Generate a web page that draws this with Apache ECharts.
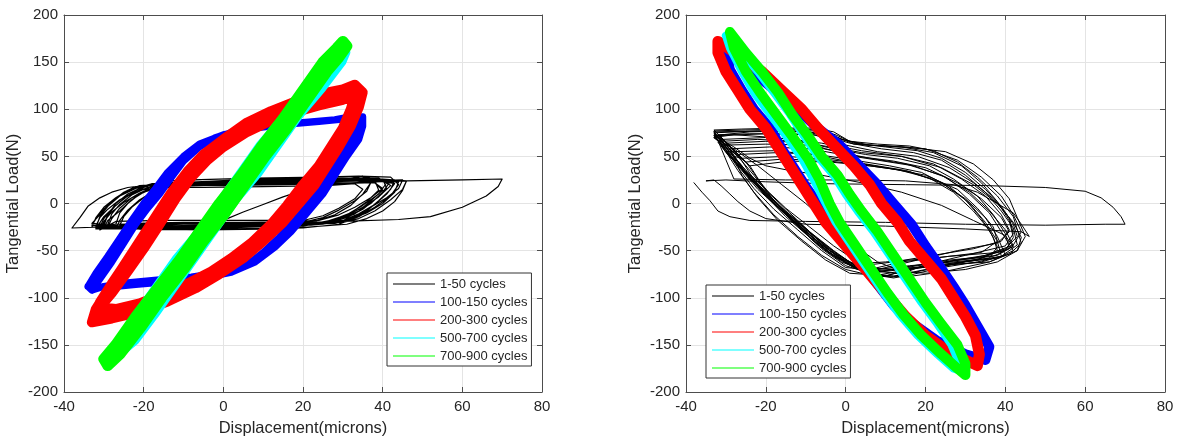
<!DOCTYPE html>
<html>
<head>
<meta charset="utf-8">
<script src="https://cdn.jsdelivr.net/npm/echarts@6/dist/echarts.min.js"></script>
<style>
  html, body { margin: 0; padding: 0; background: #fff; }
  #chart { width: 1189px; height: 442px; }
</style>
</head>
<body>
<div id="chart"></div>
<script>
// ticks
const xTicks = [-40, -20, 0, 20, 40, 60, 80];
const yTicks = [-200, -150, -100, -50, 0, 50, 100, 150, 200];
const seriesNames = ['1-50 cycles', '100-150 cycles', '200-300 cycles', '500-700 cycles', '700-900 cycles'];
const seriesColors = ['#000000', '#0000ff', '#ff0000', '#00ffff', '#00ff00'];

// left panel (displacement µm, load N)
const leftBlack = [
  [1, -16], [5, -9], [10, -1], [15, 7], [20, 14], [25, 19], [32, 22], [46, 24], [60, 25], [70, 26], [69, 18], [66, 8], [60, -4], [52, -14], [44, -17], [30, -19], [10, -21], [-10, -22], [-25, -24], [-38, -26], [-36, -15], [-34, -3], [-31, 6], [-28, 12], [-24, 17], [-18, 20], [-5, 22], [15, 23], [30, 24], [46, 24], [45, 15], [42, 4], [38, -8], [34, -16], [30, -20],
  [10, -22], [-10, -24], [-25, -25], [-33, -25], [-32, -15], [-30, -4], [-27, 6], [-24, 14], [-21, 19], [-10, 22], [10, 24], [30, 26], [43, 25], [42, 15], [39, 3], [36, -8], [32, -17], [28, -21],
  [10, -23], [-10, -25], [-32, -26], [-31, -14], [-29, -3], [-26, 8], [-22, 16], [-18, 20], [0, 23], [20, 25], [36, 27], [42, 24], [40, 12], [37, 0], [33, -11], [28, -19], [24, -22],
  [5, -24], [-15, -25], [-30, -24], [-29, -12], [-27, 0], [-24, 10], [-20, 18], [-15, 21], [5, 24], [25, 26], [38, 25], [39, 14], [36, 2], [32, -10], [27, -18], [23, -21],
  [0, -23], [-20, -24], [-33, -23], [-31, -10], [-28, 2], [-25, 12], [-22, 18], [-10, 21], [10, 23], [30, 25], [40, 26], [41, 16], [38, 4], [35, -6], [31, -15], [26, -20],
  [10, -21], [-10, -22], [-29, -22], [-28, -11], [-26, -1], [-23, 9], [-19, 17], [-12, 20], [8, 22], [28, 24], [35, 29], [37, 22], [35, 10], [32, -2], [28, -12], [23, -19],
  [5, -20], [-15, -21], [-27, -22], [-26, -10], [-24, 0], [-21, 10], [-17, 17], [0, 20], [20, 22], [34, 24], [44, 23], [43, 12], [40, 0], [36, -10], [31, -18], [27, -21],
  [5, -25], [-20, -27], [-32, -27], [-30, -14], [-27, -2], [-24, 8], [-20, 15], [-14, 18], [5, 20], [25, 22], [38, 22], [40, 14], [37, 3], [34, -8], [30, -16], [25, -22], [15, -24],
  [0, -26], [-18, -27], [-31, -25], [-30, -16], [-28, -6], [-25, 5], [-22, 13], [-17, 19], [0, 22], [18, 24], [33, 26], [36, 28], [41, 22], [39, 10], [35, -2], [31, -12], [26, -19], [20, -24],
  [0, -25], [-22, -26], [-30, -26], [-29, -18], [-26, -8], [-23, 4], [-20, 12], [-15, 18], [2, 21], [22, 23], [37, 24], [45, 25], [44, 16], [41, 6], [37, -4], [33, -14], [29, -20], [22, -23], [5, -23],
  [-15, -24], [-32, -24], [-31, -15], [-29, -6], [-26, 4], [-22, 13], [-17, 17], [-5, 17], [10, 18], [26, 19], [33, 21], [35, 15], [33, 5], [29, -5], [25, -13], [20, -18], [5, -18], [-15, -18], [-27, -19],
  [-31, -28], [-30, -19], [-28, -9], [-25, 1], [-21, 11], [-16, 20], [-8, 25], [8, 27], [24, 28], [34, 29], [42, 28], [44, 20], [42, 8], [38, -4], [34, -14], [29, -22], [20, -26], [0, -27], [-20, -28],
  [-30, -22], [-29, -12], [-27, -2], [-24, 8], [-20, 17], [-14, 24], [0, 26], [16, 27], [30, 27], [40, 26], [46, 24], [45, 14], [43, 2], [40, -8], [36, -16], [31, -22], [15, -27], [-5, -28], [-22, -27],
  [-29, -25], [-28, -16], [-26, -5], [-23, 6], [-19, 14], [-14, 19], [0, 19], [14, 20], [28, 21], [38, 22], [40, 16], [37, 6], [33, -4], [29, -12], [24, -18], [10, -20], [-10, -20], [-22, -21],
  [-27, -27], [-26, -18], [-24, -7], [-21, 4], [-17, 14], [-12, 22], [4, 25], [20, 26], [32, 27], [39, 27], [42, 19], [39, 7], [35, -4], [31, -13], [26, -20], [12, -24], [-6, -25], [-20, -26],
  [-33, -21], [-31, -12], [-29, -2], [-26, 8], [-23, 15], [-18, 21], [-4, 23], [12, 24], [28, 25], [38, 25], [43, 21], [41, 10], [38, -1], [34, -11], [30, -18], [18, -22], [0, -22], [-18, -22],
  [-26, -23], [-25, -14], [-23, -4], [-20, 6], [-16, 14], [-12, 20], [4, 22], [22, 23], [33, 24], [37, 22], [36, 13], [33, 3], [29, -7], [25, -15], [20, -20], [5, -21], [-12, -22], [-26, -23]
];
const leftBlue = [
  [-33, -92], [-31, -80], [-28, -62], [-25, -42], [-22, -22], [-19, -5], [-16, 10], [-13, 28], [-10, 45], [-6, 60], [-2, 70], [4, 78], [12, 83], [20, 86], [28, 89], [33, 93], [34, 88], [33, 75], [31, 60], [28, 42], [25, 22], [22, 2], [18, -18], [14, -36], [10, -52], [6, -65], [0, -73], [-8, -78], [-16, -81], [-24, -84], [-30, -88], [-33, -92],
  [-34, -88], [-32, -74], [-29, -56], [-26, -37], [-23, -18], [-20, 0], [-17, 16], [-14, 33], [-10, 50], [-6, 63], [0, 73], [8, 80], [16, 84], [24, 87], [31, 90], [35, 92], [35, 82], [34, 68], [31, 50], [28, 30], [25, 10], [21, -10], [17, -30], [13, -46], [8, -62], [2, -73], [-6, -80], [-14, -83], [-22, -86], [-29, -89], [-34, -88]
];
const leftRed = [
  [-32, -118], [-31, -105], [-28, -85], [-24, -60], [-20, -35], [-16, -10], [-12, 15], [-8, 38], [-4, 55], [0, 68], [6, 82], [12, 93], [18, 103], [24, 110], [30, 116], [33, 120], [34, 115], [33, 100], [31, 80], [28, 58], [25, 38], [22, 18], [18, -2], [14, -22], [9, -42], [4, -60], [-2, -76], [-8, -90], [-15, -102], [-22, -112], [-28, -118], [-32, -120],
  [-33, -126], [-32, -112], [-29, -92], [-25, -66], [-21, -40], [-17, -14], [-13, 12], [-9, 34], [-5, 52], [0, 68], [6, 86], [12, 98], [18, 108], [24, 116], [30, 121], [33, 126], [35, 118], [34, 102], [32, 82], [29, 60], [26, 40], [23, 20], [19, 0], [15, -20], [10, -40], [5, -58], [-1, -75], [-7, -90], [-14, -104], [-21, -115], [-28, -122], [-33, -126],
  [-31, -110], [-28, -95], [-24, -72], [-20, -48], [-16, -22], [-12, 5], [-8, 28], [-4, 46], [0, 60], [6, 76], [12, 88], [18, 97], [24, 104], [30, 110], [33, 114], [32, 100], [30, 80], [27, 60], [24, 40], [20, 20], [16, -2], [12, -22], [7, -42], [2, -58], [-3, -72], [-9, -85], [-15, -96], [-21, -106], [-27, -112], [-31, -110]
];
const leftCyan = [
  [-30, -166], [-27, -148], [-22, -118], [-17, -88], [-12, -58], [-6, -28], [-1, 2], [4, 32], [9, 62], [15, 92], [20, 122], [25, 150], [29, 164], [31, 160],
  [30, 150], [25, 122], [19, 92], [14, 62], [9, 32], [3, 2], [-2, -28], [-7, -58], [-12, -88], [-17, -118], [-22, -146], [-27, -164], [-30, -166]
];
const leftGreen = [
  [-29, -172], [-30, -165], [-27, -150], [-22, -120], [-16.5, -90], [-11, -60], [-6, -30], [-1, 0], [4.5, 30], [9.5, 60], [15, 90], [20, 120], [25, 150], [28.5, 165], [30, 172],
  [31, 167], [29, 155], [26, 140], [21, 110], [16, 80], [10.5, 50], [5.5, 20], [0.5, -10], [-5, -40], [-10, -70], [-15.5, -100], [-20.5, -130], [-26, -160], [-28, -168], [-29, -172]
];

// right panel
const rightBlack = [
  [-38, 22], [-36, 12], [-34, 3], [-32, -8], [-29, -14], [-24, -18], [-10, -19], [10, -20], [30, -22], [50, -23], [65, -22], [70, -22], [69, -14], [67, -4], [64, 6], [60, 13], [50, 17], [35, 19], [15, 20], [-5, 21], [-20, 23], [-30, 25], [-35, 24],
  [-33, 25], [-31, 18], [-29, 10], [-27, 2], [-24, -8], [-20, -16], [-10, -22], [10, -24], [30, -27], [44, -30], [46, -35], [44, -22], [42, -10], [38, 0], [33, 12], [27, 20], [15, 24], [0, 25], [-15, 25], [-28, 26],
  [-33, 77], [-25, 78], [-15, 79], [-6, 78], [-2, 72], [2, 64], [10, 60], [18, 56], [24, 48], [30, 33], [35, 15], [39, -3], [42, -22], [43, -35], [40, -48], [34, -58], [25, -66], [15, -75], [8, -72], [3, -62], [-3, -45], [-9, -25], [-15, -5], [-20, 15], [-25, 35], [-29, 55], [-33, 70],
  [-32, 72], [-20, 74], [-8, 73], [0, 62], [8, 55], [18, 50], [26, 38], [32, 22], [37, 5], [41, -15], [42, -32], [40, -45], [30, -55], [20, -65], [12, -78], [6, -76], [0, -62], [-6, -42], [-12, -20], [-18, 2], [-24, 28], [-29, 50], [-32, 65],
  [-31, 68], [-20, 70], [-12, 68], [-5, 58], [3, 50], [12, 45], [20, 38], [28, 22], [34, 5], [39, -15], [41, -30], [38, -42], [28, -50], [18, -60], [8, -70], [2, -68], [-4, -52], [-10, -30], [-16, -8], [-22, 15], [-27, 40], [-31, 60],
  [-30, 62], [-20, 63], [-10, 62], [-2, 55], [6, 48], [15, 42], [24, 30], [31, 12], [36, -8], [40, -28], [42, -45], [38, -55], [26, -60], [14, -68], [5, -75], [0, -70], [-6, -55], [-12, -35], [-18, -12], [-23, 12], [-27, 35], [-30, 55],
  [-28, 55], [-18, 56], [-8, 52], [0, 45], [10, 38], [20, 30], [28, 15], [33, -5], [37, -25], [38, -40], [34, -52], [22, -58], [10, -62], [2, -64], [-4, -50], [-10, -30], [-15, -10], [-20, 12], [-25, 35], [-28, 50],
  [-26, 48], [-15, 50], [-5, 47], [5, 42], [15, 35], [24, 22], [30, 5], [35, -15], [38, -35], [40, -55], [36, -62], [25, -65], [12, -70], [4, -68], [-3, -55], [-9, -35], [-14, -15], [-19, 8], [-23, 30], [-26, 45],
  [-33, 75], [-22, 77], [-10, 76], [-3, 70], [5, 62], [15, 60], [25, 55], [32, 42], [37, 25], [41, 5], [43, -15], [45, -35], [43, -50], [36, -62], [25, -72], [15, -78], [8, -76], [2, -65], [-4, -48], [-10, -28], [-17, -2], [-22, 20], [-27, 42], [-33, 72],
  [-33, 74], [-24, 76], [-14, 77], [-4, 74], [2, 63], [10, 61], [20, 58], [28, 46], [34, 28], [39, 8], [42, -12], [44, -30], [42, -44], [35, -55], [25, -62], [16, -70], [10, -77], [4, -70], [-2, -54], [-8, -34], [-14, -12], [-20, 10], [-25, 32], [-30, 54], [-33, 74],
  [-31, 66], [-22, 68], [-12, 66], [-4, 60], [4, 54], [14, 50], [22, 42], [29, 26], [35, 8], [39, -12], [41, -28], [39, -40], [32, -48], [22, -55], [12, -62], [4, -66], [-2, -58], [-8, -40], [-13, -20], [-18, 0], [-23, 22], [-27, 44], [-31, 66],
  [-29, 58], [-19, 60], [-9, 58], [-1, 52], [8, 46], [17, 40], [25, 28], [31, 10], [36, -10], [39, -30], [42, -50], [38, -58], [27, -63], [16, -70], [8, -76], [1, -74], [-5, -60], [-11, -40], [-17, -18], [-22, 6], [-26, 30], [-29, 58],
  [-24, 40], [-14, 45], [-4, 44], [6, 40], [16, 34], [24, 22], [30, 4], [34, -16], [37, -36], [38, -50], [33, -60], [22, -66], [12, -70], [5, -72], [-1, -62], [-7, -44], [-12, -24], [-17, -2], [-21, 20], [-24, 40],
  [-33, 78], [-26, 79], [-16, 80], [-8, 80], [-3, 76], [1, 66], [8, 63], [16, 61], [22, 56], [28, 44], [33, 28], [38, 8], [42, -14], [43, -28], [44, -42], [41, -54], [33, -62], [24, -68], [16, -76], [12, -79], [6, -75], [0, -62], [-6, -44], [-12, -22], [-18, 0], [-23, 22], [-28, 46], [-33, 72],
  [-32, 70], [-28, 60], [-24, 48], [-20, 40], [-14, 35], [-6, 30], [4, 22], [14, 12], [24, -2], [32, -18], [40, -34], [42, -46], [38, -52], [26, -56], [14, -62], [6, -70], [0, -68], [-6, -50], [-12, -28], [-18, -6], [-23, 16], [-27, 38], [-32, 70],
  [-33, 76], [-20, 77], [-7, 77], [-1, 68], [6, 62], [14, 60], [22, 54], [29, 40], [34, 22], [38, 2], [41, -18], [42, -36], [40, -50], [32, -58], [22, -64], [14, -72], [9, -78], [3, -68], [-3, -50], [-9, -30], [-15, -8], [-21, 16], [-26, 38], [-33, 76],
  [-30, 64], [-20, 66], [-10, 65], [-3, 58], [5, 52], [13, 48], [21, 40], [27, 26], [33, 8], [37, -12], [40, -32], [41, -48], [37, -56], [28, -60], [18, -66], [9, -72], [3, -70], [-3, -56], [-9, -36], [-15, -14], [-20, 8], [-25, 32], [-30, 64],
  [-27, 52], [-17, 54], [-7, 52], [2, 46], [11, 40], [19, 33], [26, 18], [31, 0], [35, -20], [38, -40], [39, -56], [34, -62], [24, -66], [14, -70], [6, -74], [0, -66], [-6, -48], [-11, -28], [-16, -8], [-21, 14], [-24, 32], [-27, 52],
  [-32, 73], [-24, 74], [-14, 74], [-5, 72], [1, 64], [9, 58], [17, 54], [24, 46], [30, 30], [35, 12], [39, -8], [42, -26], [43, -44], [39, -56], [30, -62], [20, -70], [12, -77], [5, -74], [-1, -60], [-7, -40], [-13, -18], [-19, 4], [-24, 26], [-28, 46], [-32, 73],
  [-25, 44], [-16, 47], [-6, 46], [4, 41], [13, 36], [21, 27], [27, 12], [32, -8], [36, -28], [38, -46], [36, -58], [27, -62], [16, -66], [8, -70], [2, -66], [-4, -50], [-9, -30], [-14, -10], [-19, 10], [-22, 26], [-25, 44],
  [-33, 70], [-28, 58], [-22, 40], [-16, 20], [-10, 0], [-4, -22], [2, -44], [8, -62], [14, -72], [20, -74], [30, -70], [38, -62], [43, -50], [44, -36], [42, -20], [38, 0], [32, 20], [24, 38], [14, 50], [4, 56], [-6, 64], [-18, 70], [-28, 73], [-33, 70]
];
const rightBlue = [
  [-30, 160], [-29, 142], [-26, 120], [-23, 100], [-19, 80], [-16, 58], [-13, 38], [-10, 18], [-7, 0], [-4, -20], [0, -42], [4, -64], [8, -86], [12, -108], [17, -128], [23, -146], [30, -160], [35, -166],
  [36, -152], [33, -130], [30, -108], [27, -88], [23.5, -66], [20, -45], [16.5, -22], [12, 0], [8, 20], [3, 42], [-1.5, 62], [-7, 80], [-12, 100], [-17, 118], [-22, 135], [-26, 148], [-30, 160]
];
const rightRed = [
  [-32, 172], [-32, 160], [-30, 140], [-27, 120], [-24, 100], [-20, 80], [-17, 60], [-14, 40], [-11, 20], [-8, 0], [-5, -20], [-1, -40], [3, -60], [7, -80], [11, -100], [15, -120], [20, -140], [26, -158], [33, -172],
  [33.5, -160], [32.5, -140], [30, -120], [27, -100], [24, -80], [20, -60], [16, -40], [13, -20], [9, 0], [6, 20], [2, 40], [-2.5, 60], [-7, 80], [-11, 100], [-16, 120], [-21, 140], [-27, 158], [-32, 172]
];
const rightCyan = [
  [-30, 178], [-29, 165], [-26, 140], [-23, 118], [-19, 95], [-15, 72], [-11, 48], [-8, 25], [-5, 0], [-2.5, -20], [1.5, -45], [5.5, -70], [9.5, -95], [13.5, -118], [18, -140], [23, -160], [27, -175], [29, -178],
  [28, -165], [26.5, -150], [23, -128], [19, -105], [15, -80], [11, -55], [7, -30], [3, -8], [0, 10], [-3, 30], [-7, 50], [-10.5, 72], [-14, 95], [-18, 118], [-22, 140], [-26, 160], [-30, 178]
];
const rightGreen = [
  [-29, 182], [-28, 165], [-25, 140], [-21.5, 118], [-17.5, 95], [-13.5, 72], [-9.5, 48], [-6.5, 25], [-4, 0], [-1.5, -20], [2.5, -45], [6.5, -70], [10.5, -95], [14.5, -118], [19, -140], [24, -160], [28, -175], [30, -182],
  [30, -170], [28, -150], [24, -128], [20, -105], [16, -80], [12, -55], [8, -30], [4, -8], [1, 10], [-2, 30], [-6, 50], [-9.5, 72], [-13.5, 95], [-17, 118], [-21, 140], [-25, 160], [-29, 182]
];

const txt = '#262626';
const axisColor = '#4d4d4d';
const font = 'Liberation Sans, Arial, sans-serif';

function mainX(gi) {
  return {
    gridIndex: gi, type: 'value',
    min: xTicks[0], max: xTicks[xTicks.length - 1], interval: 20,
    name: 'Displacement(microns)', nameLocation: 'middle', nameGap: 28,
    nameTextStyle: { fontSize: 16.5, color: txt, fontFamily: font },
    axisLine: { show: true, onZero: false, lineStyle: { color: axisColor } },
    axisTick: { show: true, inside: true, length: 5, lineStyle: { color: axisColor } },
    axisLabel: { fontSize: 15, color: txt, fontFamily: font, margin: 7 },
    splitLine: { show: true, lineStyle: { color: '#e4e4e4' } }
  };
}
function mirrorX(gi) {
  return {
    gridIndex: gi, type: 'value', position: 'top',
    min: xTicks[0], max: xTicks[xTicks.length - 1], interval: 20,
    axisLine: { show: true, onZero: false, lineStyle: { color: axisColor } },
    axisTick: { show: true, inside: true, length: 5, lineStyle: { color: axisColor } },
    axisLabel: { show: false }, splitLine: { show: false }
  };
}
function mainY(gi) {
  return {
    gridIndex: gi, type: 'value',
    min: yTicks[0], max: yTicks[yTicks.length - 1], interval: 50,
    name: 'Tangential Load(N)', nameLocation: 'middle', nameGap: 42,
    nameTextStyle: { fontSize: 16.5, color: txt, fontFamily: font },
    axisLine: { show: true, onZero: false, lineStyle: { color: axisColor } },
    axisTick: { show: true, inside: true, length: 5, lineStyle: { color: axisColor } },
    axisLabel: { fontSize: 15, color: txt, fontFamily: font, margin: 6 },
    splitLine: { show: true, lineStyle: { color: '#e4e4e4' } }
  };
}
function mirrorY(gi) {
  return {
    gridIndex: gi, type: 'value', position: 'right',
    min: yTicks[0], max: yTicks[yTicks.length - 1], interval: 50,
    axisLine: { show: true, onZero: false, lineStyle: { color: axisColor } },
    axisTick: { show: true, inside: true, length: 5, lineStyle: { color: axisColor } },
    axisLabel: { show: false }, splitLine: { show: false }
  };
}

function loopSeries(name, color, data, width, axis) {
  return {
    name: name, type: 'line', data: data,
    xAxisIndex: axis, yAxisIndex: axis,
    symbol: 'none', showSymbol: false, silent: true,
    itemStyle: { color: color },
    lineStyle: { color: color, width: width, join: 'round', cap: 'round' }
  };
}

function legendFor(left, top) {
  return {
    left: left, top: top, orient: 'vertical',
    data: seriesNames, icon: 'rect', itemWidth: 42, itemHeight: 1.2, itemGap: 4,
    padding: [4, 4, 3, 6],
    backgroundColor: '#fff', borderColor: '#333', borderWidth: 1,
    textStyle: { fontSize: 13, lineHeight: 14, color: txt, fontFamily: font },
    selectedMode: false
  };
}

const leftData = [leftBlack, leftBlue, leftRed, leftCyan, leftGreen];
const rightData = [rightBlack, rightBlue, rightRed, rightCyan, rightGreen];
const leftWidths = [1.2, 7, 10, 7, 11];
const rightWidths = [1, 10, 11, 8, 10];

const series = [];
leftData.forEach((d, i) => series.push(loopSeries(seriesNames[i], seriesColors[i], d, leftWidths[i], 0)));
rightData.forEach((d, i) => series.push(loopSeries(seriesNames[i], seriesColors[i], d, rightWidths[i], 2)));

const myChart = echarts.init(document.getElementById('chart'), null, { renderer: 'canvas' });
myChart.setOption({
  animation: false,
  backgroundColor: '#fff',
  textStyle: { fontFamily: font },
  grid: [
    { left: 64, top: 15, width: 478, height: 378 },
    { left: 686, top: 15, width: 479, height: 378 }
  ],
  xAxis: [mainX(0), mirrorX(0), mainX(1), mirrorX(1)],
  yAxis: [mainY(0), mirrorY(0), mainY(1), mirrorY(1)],
  legend: [legendFor(387, 273), legendFor(706, 285)],
  series: series
});
</script>
</body>
</html>
